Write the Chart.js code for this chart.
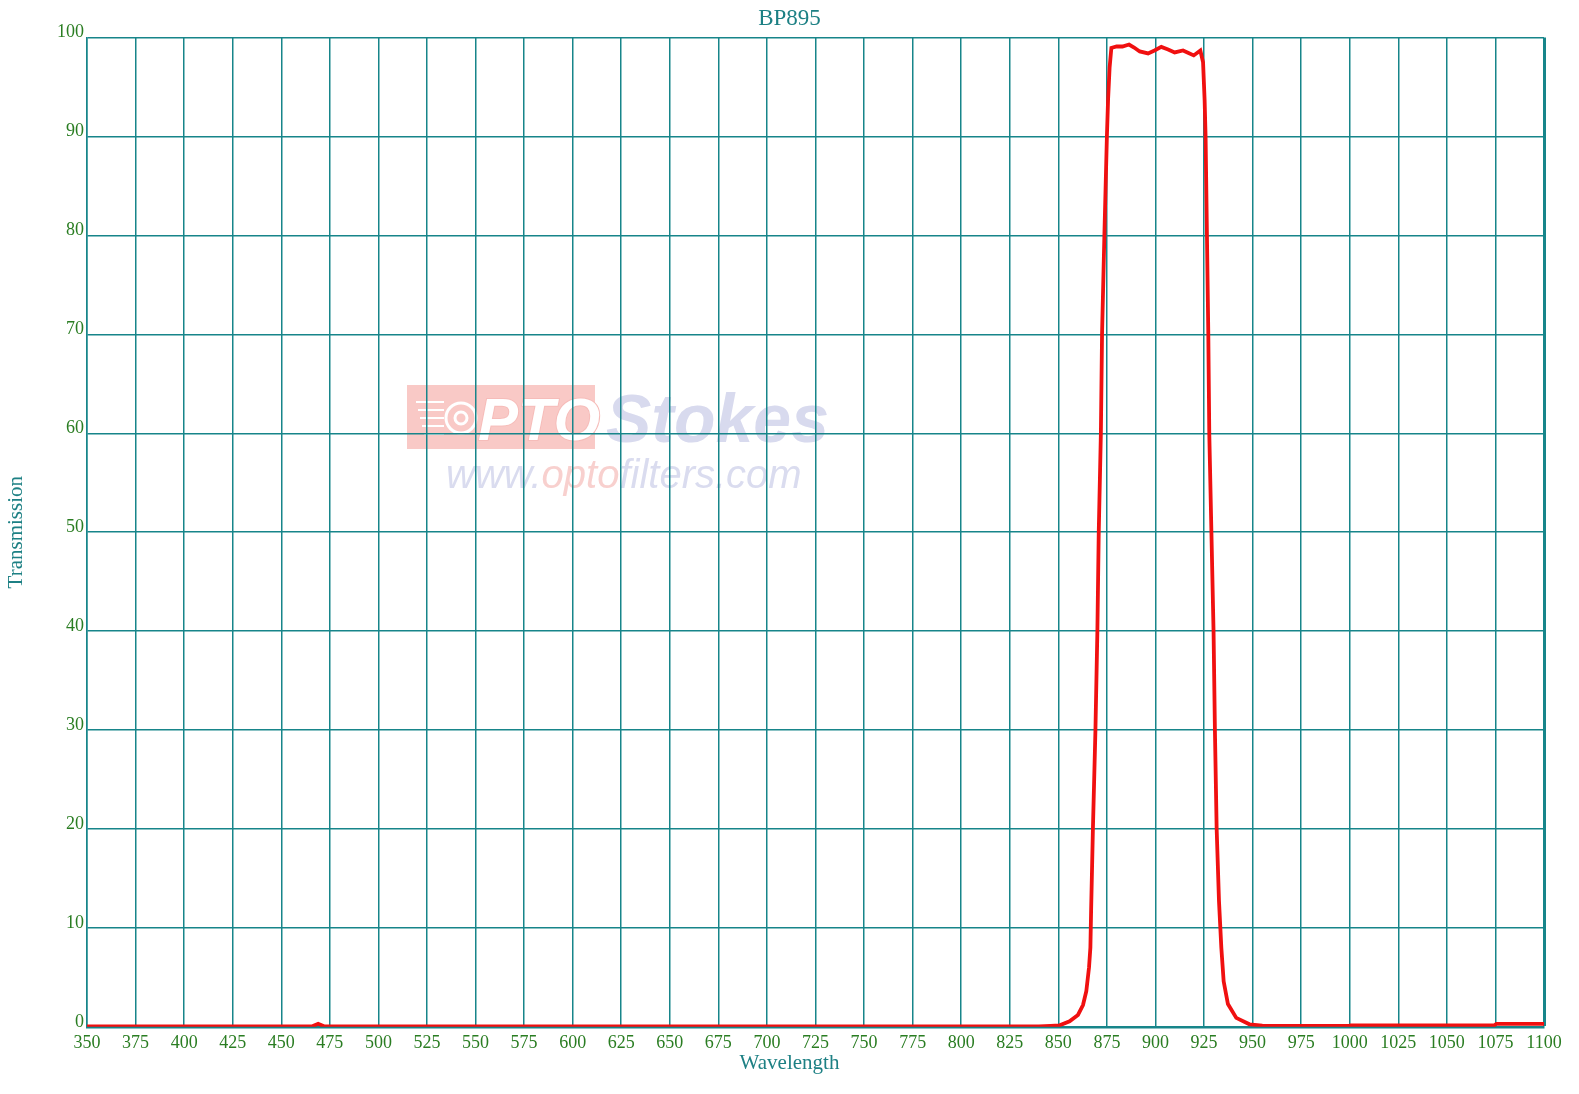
<!DOCTYPE html>
<html>
<head>
<meta charset="utf-8">
<title>BP895</title>
<script src="https://cdn.jsdelivr.net/npm/chart.js@4.4.1/dist/chart.umd.min.js"></script>
<style>
    body { margin: 0; background: #ffffff; }
    #wrap { width: 1579px; height: 1094px; }
</style>
</head>
<body>
<div id="wrap"><canvas id="bp-chart" width="1579" height="1094"></canvas></div>
<script>
// Transmission curve for the BP895 band pass filter
const wavelengths = [350, 466, 469, 472, 600, 750, 840, 846,
    850.7, 855.8, 860.1, 862.7, 864.4, 865.8, 866.5, 866.9,
    867.8, 869.1, 870.1, 870.8, 871.9, 872.5, 873.7, 875.0,
    875.6, 876.4, 877.3, 880, 883, 886.4, 889, 891.9,
    896.2, 899.5, 903.0, 906.5, 909.9, 914.2, 917, 919.7,
    923.1, 924.5, 925.3, 925.8, 926.5, 927.2, 927.7, 928.8,
    929.9, 930.6, 931.5, 932.7, 933.9, 935.1, 937.3, 941.6,
    948.4, 955, 964, 999.5, 1000.5, 1074.5, 1075.5, 1100];
const transmission = [0.05, 0.05, 0.3, 0.05, 0.05, 0.05, 0.05, 0.1,
    0.15, 0.55, 1.2, 2.2, 3.6, 6.0, 8.0, 12,
    20, 30, 40, 50, 60, 70, 80, 90,
    93.7, 97, 98.96, 99.1, 99.1, 99.3, 99.0, 98.6,
    98.4, 98.7, 99.06, 98.8, 98.5, 98.7, 98.45, 98.2,
    98.7, 97.5, 93.7, 90, 80, 70, 60, 50,
    40, 30, 20, 12.7, 8.0, 4.6, 2.3, 0.9,
    0.25, 0.12, 0.08, 0.08, 0.15, 0.15, 0.3, 0.3];

const chartTitle = 'BP895';
const xTitle = 'Wavelength';
const yTitle = 'Transmission';

const gridColor = '#17858a';
const tickColor = '#2a7d22';
const titleColor = '#1d8084';
const serif = '"Liberation Serif", "Times New Roman", serif';

// faint logo behind the grid
const watermark = {
    id: 'watermark',
    beforeDraw: function(chart) {
        const ctx = chart.ctx;
        ctx.save();
        ctx.fillStyle = '#f9c9c6';
        ctx.fillRect(407, 385, 188, 64);
        ctx.strokeStyle = '#ffffff';
        ctx.lineWidth = 3;
        ctx.beginPath();
        ctx.arc(461, 418, 15, 0, Math.PI * 2);
        ctx.stroke();
        ctx.beginPath();
        ctx.arc(461, 418, 6, 0, Math.PI * 2);
        ctx.stroke();
        ctx.lineWidth = 2;
        [402, 410, 418, 426, 434].forEach(function(y, i) {
            ctx.beginPath();
            ctx.moveTo(416 + i * 2, y);
            ctx.lineTo(444, y);
            ctx.stroke();
        });
        ctx.textBaseline = 'alphabetic';
        ctx.font = 'italic bold 60px "Liberation Sans", sans-serif';
        ctx.lineWidth = 2;
        ctx.strokeStyle = '#f6bcb9';
        ctx.strokeText('PTO', 478, 440);
        ctx.fillStyle = '#ffffff';
        ctx.fillText('PTO', 478, 440);
        ctx.fillStyle = '#d8daee';
        ctx.font = 'italic bold 68px "Liberation Sans", sans-serif';
        ctx.fillText('Stokes', 606, 442, 226);
        ctx.font = 'italic 40px "Liberation Sans", sans-serif';
        let x = 446;
        [['www.', '#dadcef'], ['opto', '#f8d0ce'], ['filters.com', '#dadcef']].forEach(function(part) {
            ctx.fillStyle = part[1];
            ctx.fillText(part[0], x, 488);
            x += ctx.measureText(part[0]).width;
        });
        ctx.restore();
    }
};

new Chart(document.getElementById('bp-chart'), {
    type: 'line',
    data: {
        datasets: [{
            label: chartTitle,
            data: wavelengths.map((w, i) => ({ x: w, y: transmission[i] })),
            borderColor: '#f01010',
            borderWidth: 3.8,
            pointRadius: 0,
            tension: 0,
            fill: false
        }]
    },
    options: {
        responsive: false,
        animation: false,
        layout: {
            padding: { left: 0, right: 0, top: 0, bottom: 18 }
        },
        plugins: {
            legend: { display: false },
            tooltip: { enabled: false },
            title: {
                display: true,
                text: chartTitle,
                color: titleColor,
                font: { family: serif, size: 23, weight: 'normal' },
                padding: { top: 5, bottom: 5 }
            },
            subtitle: {
                display: true,
                position: 'bottom',
                text: xTitle,
                color: titleColor,
                font: { family: serif, size: 21, weight: 'normal' },
                padding: 0
            }
        },
        scales: {
            x: {
                type: 'linear',
                min: 350,
                max: 1100,
                afterFit: function(scale) { scale.height = 24; },
                ticks: {
                    stepSize: 25,
                    color: tickColor,
                    padding: 6,
                    maxRotation: 0,
                    autoSkip: false,
                    font: { family: serif, size: 18 },
                    callback: value => String(value)
                },
                grid: {
                    color: gridColor,
                    lineWidth: ctx => (ctx.tick && ctx.tick.value === 1100 ? 3 : 1.5),
                    drawTicks: false
                },
                border: { color: gridColor, width: 2.5 }
            },
            y: {
                min: 0,
                max: 100,
                afterFit: function(scale) { scale.width = 87; },
                ticks: {
                    stepSize: 10,
                    color: tickColor,
                    padding: 3,
                    labelOffset: -5,
                    font: { family: serif, size: 18 }
                },
                title: {
                    display: true,
                    text: yTitle,
                    color: titleColor,
                    font: { family: serif, size: 21, weight: 'normal' },
                    padding: { top: 4, bottom: 0 }
                },
                grid: {
                    color: gridColor,
                    lineWidth: 1.5,
                    drawTicks: false
                },
                border: { color: gridColor, width: 1.5 }
            },
            // empty right-hand strip so the titles centre on the page
            yRight: {
                position: 'right',
                min: 0,
                max: 100,
                afterFit: function(scale) { scale.width = 35; },
                ticks: { display: false },
                grid: { display: false },
                border: { display: false }
            }
        }
    },
    plugins: [watermark]
});
</script>
</body>
</html>
